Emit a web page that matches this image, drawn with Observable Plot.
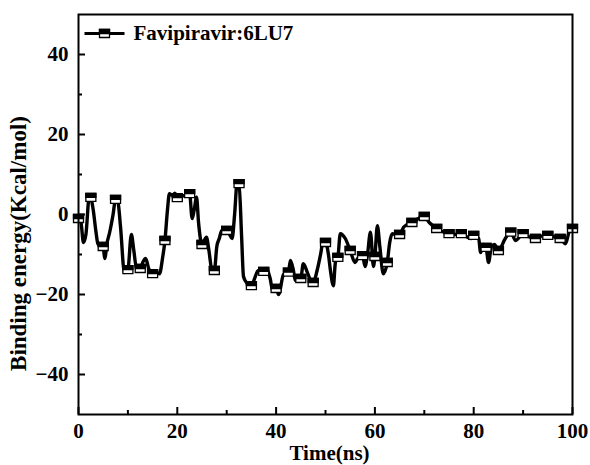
<!DOCTYPE html>
<html>
<head>
<meta charset="utf-8">
<script src="https://cdn.jsdelivr.net/npm/d3@7"></script>
<script src="https://cdn.jsdelivr.net/npm/@observablehq/plot@0.6"></script>
<style>
  html, body { margin: 0; padding: 0; background: #fff; }
  #chart svg { display: block; }
  #chart svg, #chart svg text { font-family: "Liberation Serif", serif !important; font-weight: bold; }
</style>
</head>
<body>
<div id="chart"></div>
<script>
const seriesName = "Favipiravir:6LU7";
const time = [0,0.5,1.0,1.5,2.2,2.5,3.0,3.5,4.0,4.5,5.0,5.3,5.8,6.3,7.0,7.5,8.0,8.5,9.3,10.0,10.7,11.2,11.7,12.5,13.0,13.6,14.2,15.0,15.6,16.4,17.0,17.5,18.0,18.4,19.0,19.5,20.0,20.8,21.5,22.5,23.0,23.4,23.9,24.3,25.0,25.9,26.4,27.0,27.5,28.0,28.5,29.0,30.0,30.6,31.1,31.6,32.1,32.5,33.0,33.4,34.0,35.0,35.5,36.4,37.0,37.5,38.0,38.8,39.3,40.0,40.5,41.5,42.5,42.9,43.5,43.9,45.0,45.5,46.3,47.0,47.5,48.3,49.0,49.5,50.0,50.6,51.0,51.6,52.0,52.5,53.0,54.0,55.0,56.0,56.5,57.5,58.0,58.5,59.1,59.7,60.0,60.5,61.0,61.7,62.5,63.0,63.5,64.5,65.0,65.8,66.5,67.5,68.5,70.0,71.0,72.5,73.5,75.0,76.0,77.5,78.5,79.5,80.0,81.0,81.4,82.0,82.5,83.0,83.6,84.2,85.0,86.4,87.5,88.5,90.0,91.0,92.5,93.5,95.0,96.0,97.5,98.6,99.4,100];
const energy = [-1,-2,-7,-5,4.8,4.3,1,-4,-7.5,-7.5,-8,-11,-7,-4.5,0,3.8,3,-3,-14.5,-13.8,-5,-9,-13.2,-13.5,-12,-11,-13.5,-14.8,-14.5,-14.8,-11,-6.5,1,5.2,4.8,5.3,4.2,4.5,4.8,5.2,-1,1,4.3,-2,-7.5,-5.7,-9,-13.8,-14,-8,-6,-4,-4,-5,-6,0,7.8,7.7,-5,-15.5,-17,-17.8,-16.5,-14,-14,-14.2,-13.5,-16,-19,-18.5,-20,-15,-14.4,-11.5,-14,-16.5,-16,-12.3,-14.4,-16.5,-17,-14,-10,-7,-7,-10,-14,-17.8,-12,-10.7,-4.8,-6,-9,-12,-11,-10.3,-13,-10,-4.4,-13,-10.5,-2.8,-8,-14.8,-12,-7,-4.8,-5,-5,-3.2,-2.5,-2,-1.2,-0.5,-2,-3.5,-4.2,-4.8,-5,-4.8,-5.5,-6,-5.2,-6,-9.5,-7.5,-8.2,-12,-8,-7.5,-9,-6,-4.4,-6.5,-4.8,-5.5,-6,-5.5,-5.2,-5.5,-6,-7.3,-4,-3.5];
const markerStep = 2.5;
const xMajorTicks = [0,20,40,60,80,100];
const xMinorTicks = [10,30,50,70,90];
const yMajorTicks = [-40,-20,0,20,40];
const yMinorTicks = [-30,-10,10,30];
const xLabel = "Time(ns)";
const yLabel = "Binding energy(Kcal/mol)";

const data = time.map((t, i) => ({t, e: energy[i]}));
const markers = data.filter(d => Math.abs(d.t / markerStep - Math.round(d.t / markerStep)) < 1e-6);

const W = 590, H = 465;
const mL = 78, mR = 18, mT = 14, mB = 51;
const plotW = W - mL - mR, plotH = H - mT - mB;
const font = "Liberation Serif";

const MW = 10, MH = 8;
const boxSymbol = {draw(ctx) { ctx.rect(-MW/2, -MH/2, MW, MH); }};
const topHalf = {draw(ctx) { ctx.rect(-MW/2, -MH/2, MW, MH/2); }};
const legendSeg = {draw(ctx) { ctx.moveTo(-20, 0); ctx.lineTo(20, 0); }};

const legendDx = 26, legendDy = 19;
const txt = {fontFamily: font, fontWeight: "bold"};

const chart = Plot.plot({
  width: W, height: H,
  marginLeft: mL, marginRight: mR, marginTop: mT, marginBottom: mB,
  style: {fontFamily: font, fontWeight: "bold", background: "#fff", color: "#000"},
  x: {domain: [0, 100]},
  y: {domain: [-50, 50]},
  marks: [
    Plot.line(data, {x: "t", y: "e", stroke: "#000", strokeWidth: 3.4, curve: "monotone-x"}),
    Plot.dot(markers, {x: "t", y: "e", symbol: boxSymbol, fill: "#fff", stroke: "#000", strokeWidth: 1.3, r: 5}),
    Plot.dot(markers, {x: "t", y: "e", symbol: topHalf, fill: "#000", stroke: "#000", strokeWidth: 1.3, r: 5}),
    Plot.tickX(xMajorTicks, {x: d => d, stroke: "#000", strokeWidth: 2, insetTop: plotH - 7}),
    Plot.tickX(xMinorTicks, {x: d => d, stroke: "#000", strokeWidth: 2, insetTop: plotH - 4}),
    Plot.tickY(yMajorTicks, {y: d => d, stroke: "#000", strokeWidth: 2, insetRight: plotW - 7}),
    Plot.tickY(yMinorTicks, {y: d => d, stroke: "#000", strokeWidth: 2, insetRight: plotW - 4}),
    Plot.axisX(xMajorTicks, {tickSize: 0, tickPadding: 9, fontSize: 21, ...txt, label: null}),
    Plot.axisY(yMajorTicks, {tickSize: 0, tickPadding: 10, fontSize: 21, ...txt, label: null}),
    Plot.frame({stroke: "#000", strokeWidth: 2}),
    Plot.text([xLabel], {frameAnchor: "bottom", dx: 4, dy: 39, fontSize: 21, ...txt, textAnchor: "middle", lineAnchor: "middle"}),
    Plot.text([yLabel], {frameAnchor: "left", dx: -60, dy: 29, rotate: -90, fontSize: 23, ...txt, textAnchor: "middle", lineAnchor: "middle"}),
    Plot.dot([seriesName], {frameAnchor: "top-left", dx: legendDx, dy: legendDy, symbol: legendSeg, stroke: "#000", strokeWidth: 3, r: 5}),
    Plot.dot([seriesName], {frameAnchor: "top-left", dx: legendDx, dy: legendDy, symbol: boxSymbol, fill: "#fff", stroke: "#000", strokeWidth: 1.3, r: 5}),
    Plot.dot([seriesName], {frameAnchor: "top-left", dx: legendDx, dy: legendDy, symbol: topHalf, fill: "#000", stroke: "#000", strokeWidth: 1.3, r: 5}),
    Plot.text([seriesName], {frameAnchor: "top-left", dx: 55, dy: legendDy, text: d => d, textAnchor: "start", lineAnchor: "middle", fontSize: 21, ...txt})
  ]
});
document.getElementById("chart").appendChild(chart);
</script>
</body>
</html>
